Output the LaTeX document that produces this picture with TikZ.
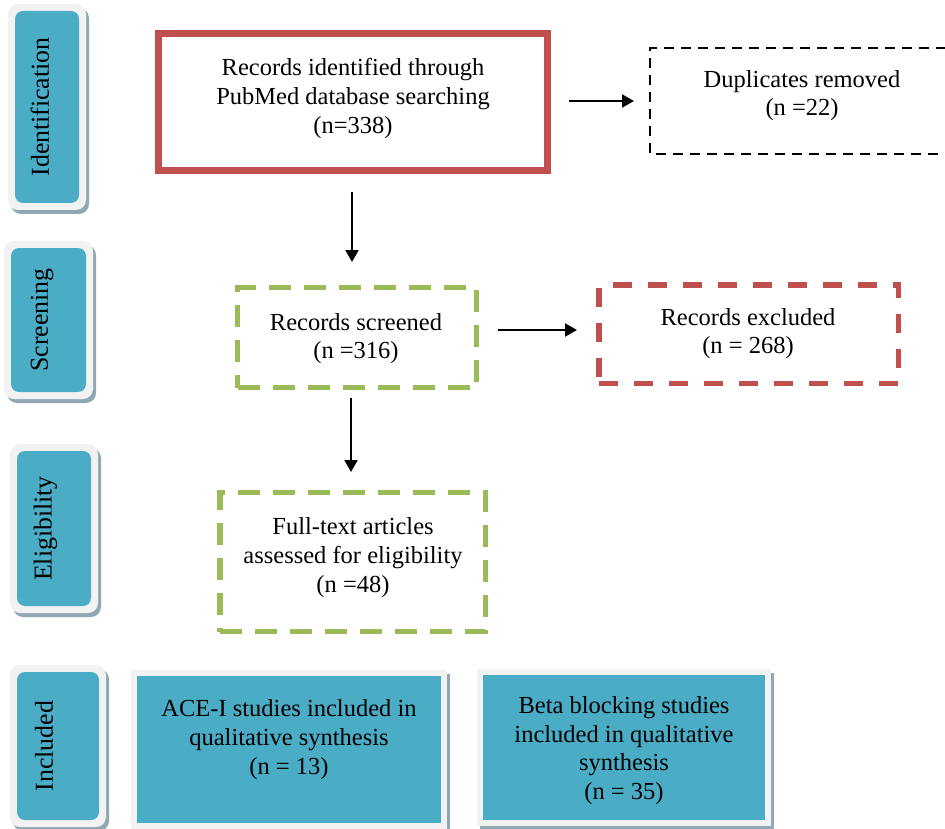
\documentclass[tikz,border=0pt]{standalone}
\usepackage{fontspec}
\setmainfont{Liberation Serif}
\usetikzlibrary{arrows.meta}
\definecolor{tealc}{HTML}{4BACC6}
\definecolor{redc}{HTML}{C0504D}
\definecolor{greenc}{HTML}{9BBB59}
\definecolor{lightc}{HTML}{F2F2F2}
\definecolor{shadowc}{HTML}{8FA8B3}
\tikzset{
  txt/.style={align=center, font=\fontsize{24.5}{28.7}\selectfont, inner sep=0pt},
  sidetxt/.style={rotate=90, font=\fontsize{25.8}{30}\selectfont, inner sep=0pt},
  boxn/.style={rectangle, inner sep=0pt, outer sep=0pt},
  redsolid/.style={boxn, draw=redc, line width=6.5pt},
  greendash/.style={boxn, draw=greenc, line width=5.5pt, dash pattern=on 22pt off 13pt},
  reddash/.style={boxn, draw=redc, line width=5.5pt, dash pattern=on 19pt off 16pt},
  blackdash/.style={draw=black, line width=2pt, dash pattern=on 10pt off 7pt},
  arr/.style={-{Triangle[width=13pt,length=12pt]}, line width=2pt},
}
% #1 name, #2..#5 teal rectangle, #6 text, #7 text x
\newcommand\sidebox[7]{%
  \fill[shadowc, rounded corners=10pt] ({#2-7+3},{#3-7+4}) rectangle ({#4+7+3},{#5+7+4});
  \fill[lightc, rounded corners=10pt] ({#2-7},{#3-7}) rectangle ({#4+7},{#5+7});
  \fill[tealc, rounded corners=8pt] (#2,#3) rectangle (#4,#5);
  \node[sidetxt] (#1) at ({#7},{(#3+#5)/2}) {#6};
}
\newcommand\inclbox[5]{%
  \fill[shadowc] ({#2-6+3},{#3-6+4}) rectangle ({#4+6+3},{#5+6+4});
  \fill[lightc] ({#2-6},{#3-6}) rectangle ({#4+6},{#5+6});
  \node[boxn, fill=tealc, minimum width={(#4-#2)*1pt}, minimum height={(#5-#3)*1pt}] (#1) at ({(#2+#4)/2},{(#3+#5)/2}) {};
}
\begin{document}
\begin{tikzpicture}[x=1pt,y=-1pt]
\useasboundingbox (0,0) rectangle (945,829);
\fill[white] (0,0) rectangle (945,829);

% side labels
\sidebox{sid}{15}{11}{79}{203}{Identification}{40}
\sidebox{sscr}{11}{248}{86}{392}{Screening}{42}
\sidebox{selig}{17}{451}{91}{606}{Eligibility}{45.5}
\sidebox{sincl}{17}{672}{99}{820}{Included}{44}

% identification
\node[redsolid, minimum width=389pt, minimum height=137pt] (rec) at (353,102) {};
\node[txt] (rect) at (353,98.5) {Records identified through\\PubMed database searching\\(n=338)};

\node[boxn, minimum width=330pt, minimum height=106pt] (dup) at (815,101) {};
\draw[blackdash] (dup.north east) -- (dup.north west) -- (dup.south west) -- (dup.south east);
\node[txt] (dupt) at (802,95.5) {Duplicates removed\\(n =22)};

% screening
\node[greendash, minimum width=239pt, minimum height=100pt] (scr) at (357,337.5) {};
\node[txt] (scrt) at (356,338.5) {Records screened\\(n =316)};

\node[reddash, minimum width=299.5pt, minimum height=98.5pt] (exc) at (748.75,334.25) {};
\node[txt] (exct) at (748,333.5) {Records excluded\\(n = 268)};

% eligibility
\node[greendash, minimum width=265.5pt, minimum height=139pt] (full) at (352.75,562) {};
\node[txt] (fullt) at (353,557.5) {Full-text articles\\assessed for eligibility\\(n =48)};

% included
\inclbox{ace}{137}{676}{441}{823}
\node[txt] (acet) at (289,739.5) {ACE-I studies included in\\qualitative synthesis\\(n = 13)};
\inclbox{beta}{483}{675}{765}{820}
\node[txt] (betat) at (624,750.5) {Beta blocking studies\\included in qualitative\\synthesis\\(n = 35)};

% arrows
\coordinate (a1s) at ([xshift=-1pt,yshift=-22pt]rec.south);
\coordinate (a1e) at ([yshift=25.5pt]scr.north);
\draw[arr] (a1s) -- (a1s |- a1e);

\coordinate (a2s) at ([xshift=21.5pt,yshift=1pt]rec.east);
\coordinate (a2e) at ([xshift=-16pt]dup.west);
\draw[arr] (a2s) -- (a2s -| a2e);

\coordinate (a3s) at ([xshift=21.5pt,yshift=7.5pt]scr.east);
\coordinate (a3e) at ([xshift=-22pt]exc.west);
\draw[arr] (a3s) -- (a3s -| a3e);

\coordinate (a4s) at ([xshift=-6pt,yshift=-10pt]scr.south);
\coordinate (a4e) at ([yshift=20.5pt]full.north);
\draw[arr] (a4s) -- (a4s |- a4e);
\end{tikzpicture}
\end{document}
